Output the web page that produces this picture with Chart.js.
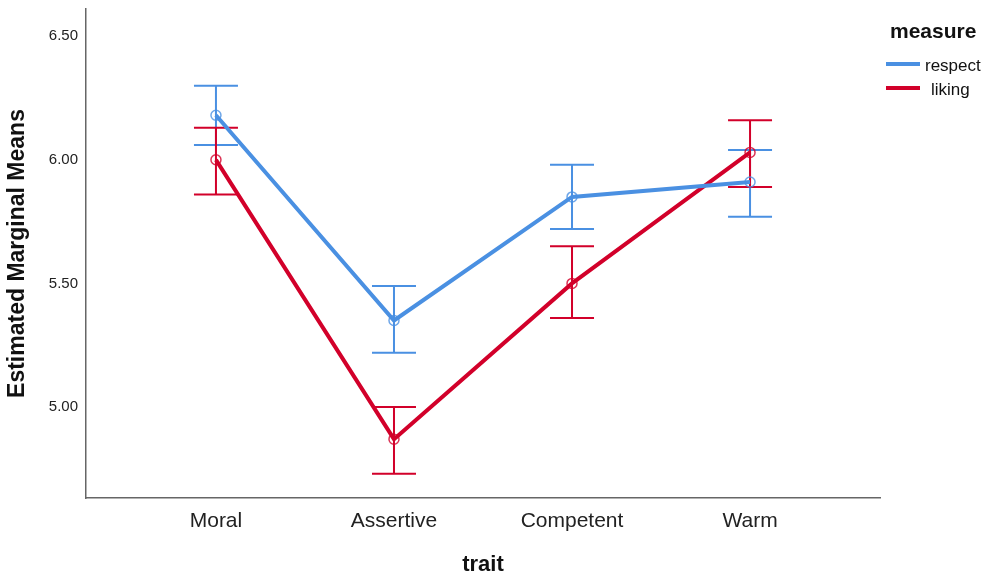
<!DOCTYPE html>
<html>
<head>
<meta charset="utf-8">
<script src="https://cdn.jsdelivr.net/npm/chart.js@4.4.1/dist/chart.umd.min.js"></script>
<style>
  html, body { margin: 0; padding: 0; background: #fff; }
  #wrap { width: 992px; height: 578px; }
</style>
</head>
<body>
<div id="wrap"><canvas id="plot" width="992" height="578"></canvas></div>
<script>
  // Data
  const traits = ['Moral', 'Assertive', 'Competent', 'Warm']
  const respectMeans = [6.18, 5.35, 5.85, 5.91]
  const respectLow = [6.06, 5.22, 5.72, 5.77]
  const respectHigh = [6.30, 5.49, 5.98, 6.04]
  const likingMeans = [6.00, 4.87, 5.50, 6.03]
  const likingLow = [5.86, 4.73, 5.36, 5.89]
  const likingHigh = [6.13, 5.00, 5.65, 6.16]
  const yTicks = [5.00, 5.50, 6.00, 6.50]

  const blue = '#4a90e2'
  const red = '#d2002a'
  const font = 'Liberation Sans, Arial, sans-serif'

  const points = (vals) => vals.map((v, i) => ({ x: i, y: v }))

  // error bars drawn under the lines, from the chart's scales
  const errorBars = {
    id: 'errorBars',
    beforeDatasetsDraw (chart) {
      const { ctx, scales: { x, y } } = chart
      ctx.save()
      chart.data.datasets.forEach((ds) => {
        ctx.strokeStyle = ds.borderColor
        ctx.lineWidth = 2
        ds.errLow.forEach((lo, i) => {
          const px = x.getPixelForValue(i)
          const y1 = y.getPixelForValue(lo)
          const y2 = y.getPixelForValue(ds.errHigh[i])
          ctx.beginPath()
          ctx.moveTo(px, y1); ctx.lineTo(px, y2)
          ctx.moveTo(px - 22, y1); ctx.lineTo(px + 22, y1)
          ctx.moveTo(px - 22, y2); ctx.lineTo(px + 22, y2)
          ctx.stroke()
        })
      })
      ctx.restore()
    }
  }

  // legend in the right margin, SPSS style
  const sideLegend = {
    id: 'sideLegend',
    afterDraw (chart) {
      const { ctx } = chart
      ctx.save()
      ctx.fillStyle = '#111'
      ctx.textBaseline = 'middle'
      ctx.font = 'bold 21px ' + font
      ctx.fillText('measure', 890, 32)
      ctx.font = '17px ' + font
      chart.data.datasets.forEach((ds, i) => {
        const yy = 64 + i * 24
        ctx.strokeStyle = ds.borderColor
        ctx.lineWidth = 4
        ctx.beginPath()
        ctx.moveTo(886, yy); ctx.lineTo(920, yy)
        ctx.stroke()
        ctx.fillStyle = '#111'
        ctx.fillText(ds.label, i === 0 ? 925 : 931, yy + 2)
      })
      ctx.restore()
    }
  }

  new Chart(document.getElementById('plot'), {
    type: 'line',
    data: {
      datasets: [{
        label: 'respect',
        data: points(respectMeans),
        errLow: respectLow,
        errHigh: respectHigh,
        borderColor: blue,
        borderWidth: 4,
        pointStyle: 'circle',
        pointRadius: 5,
        pointBorderWidth: 1.5,
        pointBackgroundColor: 'rgba(255,255,255,0)',
        pointBorderColor: 'rgba(74,144,226,0.8)'
      }, {
        label: 'liking',
        data: points(likingMeans),
        errLow: likingLow,
        errHigh: likingHigh,
        borderColor: red,
        borderWidth: 4,
        pointStyle: 'circle',
        pointRadius: 5,
        pointBorderWidth: 1.5,
        pointBackgroundColor: 'rgba(255,255,255,0)',
        pointBorderColor: 'rgba(210,0,42,0.8)'
      }]
    },
    options: {
      responsive: false,
      animation: false,
      devicePixelRatio: 1,
      layout: { padding: { top: 9, right: 112, left: 0, bottom: 0 } },
      plugins: {
        legend: { display: false },
        tooltip: { enabled: false }
      },
      scales: {
        x: {
          type: 'linear',
          min: -0.73,
          max: 3.73,
          afterBuildTicks: (axis) => { axis.ticks = traits.map((t, i) => ({ value: i })) },
          afterFit: (axis) => { axis.height = 80 },
          ticks: {
            callback: (v) => traits[v],
            color: '#222',
            padding: 11,
            maxRotation: 0,
            font: { family: font, size: 21 }
          },
          grid: { display: false, drawTicks: false },
          border: { color: '#666', width: 1.5 },
          title: {
            display: true,
            text: 'trait',
            color: '#111',
            padding: { top: 0, bottom: 0 },
            font: { family: font, size: 22, weight: 'bold' }
          }
        },
        y: {
          min: 4.632,
          max: 6.61,
          afterBuildTicks: (axis) => { axis.ticks = yTicks.map((v) => ({ value: v })) },
          afterFit: (axis) => {
            axis.width = 86
            axis.paddingTop = 0
            axis.paddingBottom = 0
          },
          ticks: {
            callback: (v) => v.toFixed(2),
            color: '#222',
            padding: 8,
            font: { family: font, size: 15 }
          },
          grid: { display: false, drawTicks: false },
          border: { color: '#666', width: 1.5 },
          title: {
            display: true,
            text: 'Estimated Marginal Means',
            color: '#111',
            padding: { top: 4, bottom: 0 },
            font: { family: font, size: 23, weight: 'bold' }
          }
        }
      }
    },
    plugins: [errorBars, sideLegend]
  })
</script>
</body>
</html>
